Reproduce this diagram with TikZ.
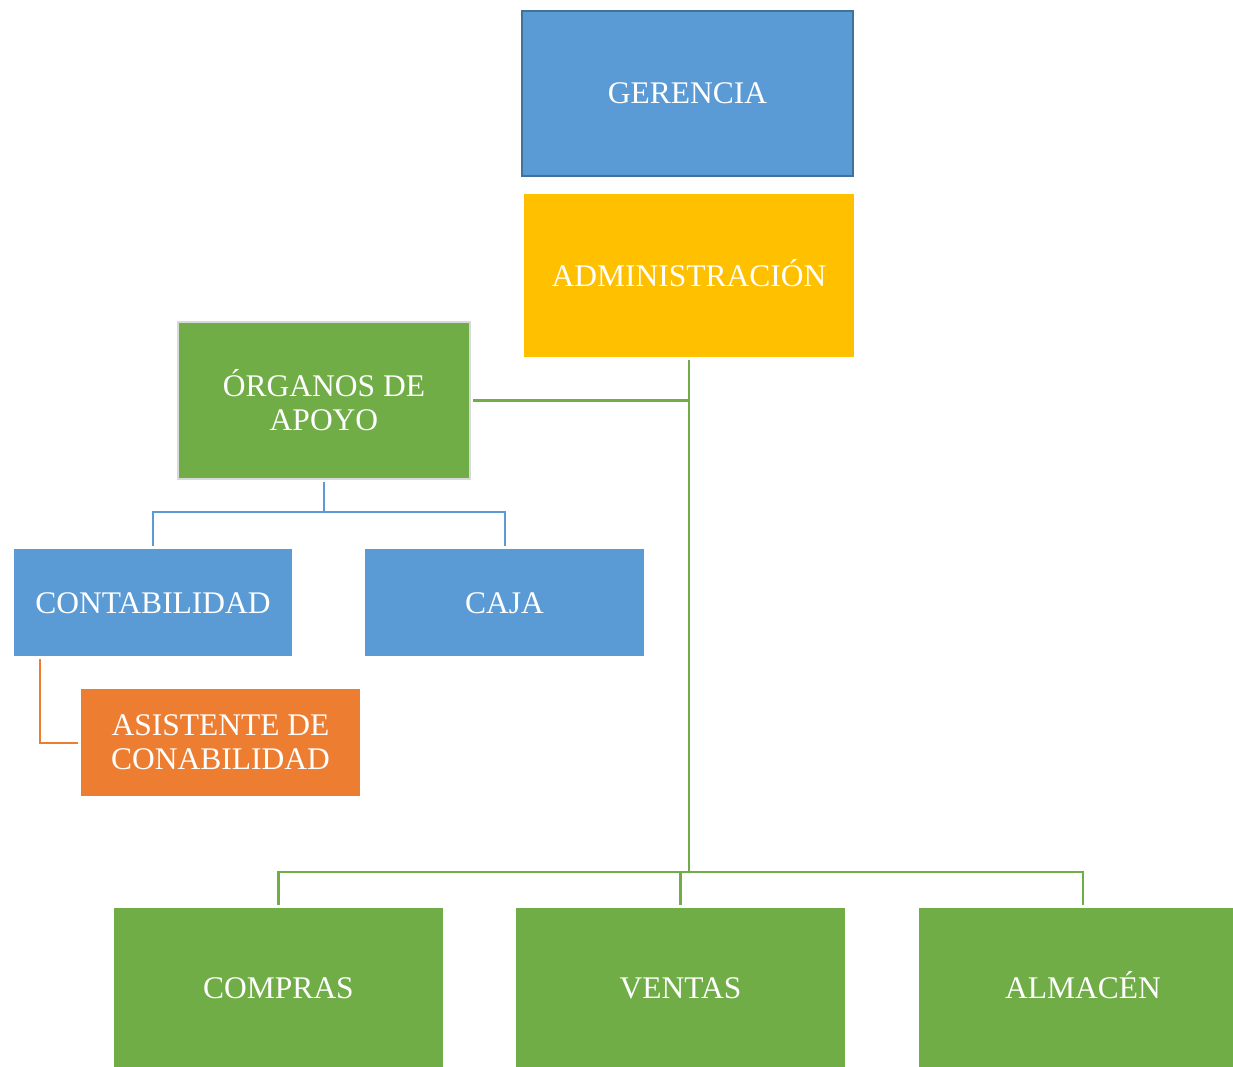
\documentclass[tikz,border=0pt]{standalone}
\usepackage{fontspec}
\setmainfont{Liberation Serif}
\definecolor{boxblue}{HTML}{5B9BD5}
\definecolor{boxgold}{HTML}{FFC000}
\definecolor{boxgreen}{HTML}{70AD47}
\definecolor{boxorange}{HTML}{ED7D31}
\definecolor{edgeblue}{HTML}{41719C}
\definecolor{edgegray}{HTML}{D9D9D9}
\begin{document}
\begin{tikzpicture}[x=1pt,y=-1pt,
    unit/.style={inner sep=0pt,text=white,align=center,
        font=\fontsize{31.5}{34}\selectfont},
    oneline/.style={unit,text height=21pt,text depth=0pt},
    greenlink/.style={boxgreen,line width=2.5pt},
    bluelink/.style={boxblue,line width=2pt},
    orangelink/.style={boxorange,line width=2pt}]
    \useasboundingbox (0,0) rectangle (1233,1067);
    %% top
    \node[oneline,fill=boxblue,draw=edgeblue,line width=2.5pt,minimum width=331,minimum height=165] (ger) at (687.5,93.5) {GERENCIA};
    \node[oneline,fill=boxgold,minimum width=330,minimum height=163] (adm) at (689,275.5) {ADMINISTRACIÓN};
    %% support
    \node[unit,fill=boxgreen,draw=edgegray,line width=2pt,minimum width=292,minimum height=157] (org) at (324,400.5) {ÓRGANOS DE\\APOYO};
    \node[oneline,fill=boxblue,minimum width=278,minimum height=107] (cont) at (153,602.5) {CONTABILIDAD};
    \node[oneline,fill=boxblue,minimum width=279,minimum height=107] (caja) at (504.5,602.5) {CAJA};
    \node[unit,fill=boxorange,minimum width=279,minimum height=107] (asis) at (220.5,742.5) {ASISTENTE DE\\CONABILIDAD};
    %% bottom
    \node[oneline,fill=boxgreen,minimum width=329,minimum height=159] (comp) at (278.5,987.5) {COMPRAS};
    \node[oneline,fill=boxgreen,minimum width=329,minimum height=159] (vent) at (680.5,987.5) {VENTAS};
    \node[oneline,fill=boxgreen,minimum width=329,minimum height=159] (alm) at (1083,987.5) {ALMACÉN};
    %% links
    \coordinate (hub) at (689,872);
    \coordinate (orgjoin) at (324,512);
    \draw[greenlink] ([yshift=-3pt]adm.south) -- (hub);
    \draw[greenlink] ([xshift=2pt]org.east) -- (org.east -| adm.south);
    \draw[greenlink] (hub) -| ([yshift=3pt]comp.north);
    \draw[greenlink] (hub) -| ([yshift=3pt]vent.north);
    \draw[greenlink] (hub) -| ([yshift=3pt]alm.north);
    \draw[bluelink] ([yshift=-2pt]org.south) -- (orgjoin);
    \draw[bluelink] (orgjoin) -| ([yshift=3pt]cont.north);
    \draw[bluelink] (orgjoin) -| ([yshift=3pt]caja.north);
    \draw[orangelink] ([xshift=26pt,yshift=-3pt]cont.south west) |- ([xshift=-3pt]asis.west);
\end{tikzpicture}
\end{document}
